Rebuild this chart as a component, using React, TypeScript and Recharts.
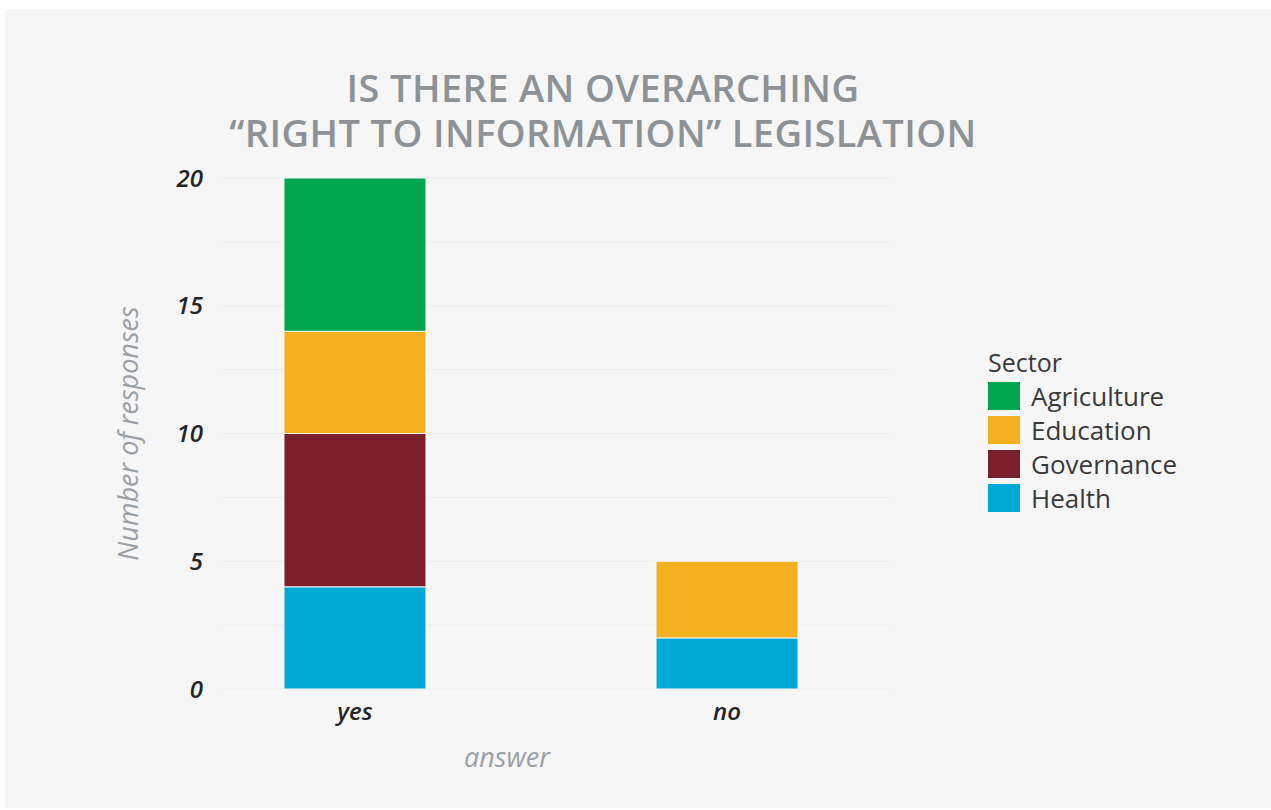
import { Bar, BarChart, CartesianGrid, Legend, XAxis, YAxis } from "recharts"

const answers = ["yes", "no"]
const sectors = ["Health", "Governance", "Education", "Agriculture"]
const health = [4, 2]
const governance = [6, 0]
const education = [4, 3]
const agriculture = [6, 0]
const yTicks = [0, 5, 10, 15, 20]
const gridValues = [0, 2.5, 5, 7.5, 10, 12.5, 15, 17.5, 20]
const titleLines = ["IS THERE AN OVERARCHING", "“RIGHT TO INFORMATION” LEGISLATION"]

const colors: Record<string, string> = {
  Health: "#00a9d6",
  Governance: "#7a1f2b",
  Education: "#f4b020",
  Agriculture: "#00a650",
}

const data = answers.map((a, i) => ({
  idx: i,
  answer: a,
  Health: health[i],
  Governance: governance[i],
  Education: education[i],
  Agriculture: agriculture[i],
}))

const FONT = "'Open Sans', sans-serif"
const tickStyle = { fill: "#252525", fontSize: 24, fontStyle: "italic", fontWeight: 600, fontFamily: FONT }

function SectorLegend() {
  const order = [...sectors].reverse()
  return (
    <div style={{ fontFamily: FONT, color: "#3a3a3a" }}>
      <div style={{ fontSize: 25, lineHeight: "30px", marginBottom: 2 }}>Sector</div>
      {order.map((s) => (
        <div key={s} style={{ display: "flex", alignItems: "center", height: 34 }}>
          <span style={{ width: 32, height: 28, background: colors[s], display: "inline-block" }} />
          <span style={{ fontSize: 26, marginLeft: 11 }}>{s}</span>
        </div>
      ))}
    </div>
  )
}

export default function App() {
  return (
    <div style={{ position: "absolute", left: 0, top: 0, width: 1271, height: 810, background: "#ffffff" }}>
      <div style={{ position: "absolute", left: 5, top: 9, width: 1266, height: 799, background: "#f6f6f6" }}>
        {titleLines.map((t, i) => (
          <div
            key={t}
            style={{
              position: "absolute",
              left: 0,
              width: 1196,
              top: 56 + i * 45,
              height: 45,
              textAlign: "center",
              fontFamily: FONT,
              fontWeight: 600,
              fontSize: 38,
              letterSpacing: 0.4,
              lineHeight: "45px",
              color: "#8d9297",
              whiteSpace: "nowrap",
            }}
          >
            {t}
          </div>
        ))}
        <BarChart
          width={1266}
          height={799}
          data={data}
          margin={{ top: 169, right: 381, bottom: 89, left: 107 }}
          style={{ position: "absolute", left: 0, top: 0 }}
        >
          <CartesianGrid stroke="#ececec" vertical={false} horizontalValues={gridValues} />
          <XAxis
            dataKey="idx"
            type="number"
            domain={[-0.3575, 1.438]}
            ticks={[0, 1]}
            tickFormatter={(v: number) => answers[v]}
            axisLine={false}
            tickLine={false}
            tickSize={0}
            tickMargin={14}
            height={30}
            tick={tickStyle}
            label={{
              value: "answer",
              position: "bottom",
              offset: 29,
              dx: -49,
              style: { fill: "#9aa0a6", fontSize: 27, fontStyle: "italic", fontFamily: FONT },
            }}
          />
          <YAxis
            domain={[0, 20]}
            ticks={yTicks}
            axisLine={false}
            tickLine={false}
            tickSize={0}
            tickMargin={19}
            width={110}
            tick={tickStyle}
            label={{
              value: "Number of responses",
              angle: -90,
              position: "insideLeft",
              offset: 16,
              style: { textAnchor: "middle", fill: "#9aa0a6", fontSize: 27, fontStyle: "italic", fontFamily: FONT },
            }}
          />
          <Legend
            layout="vertical"
            align="center"
            verticalAlign="middle"
            wrapperStyle={{ left: 983, top: 338, width: 260 }}
            content={() => <SectorLegend />}
          />
          {sectors.map((s) => (
            <Bar
              key={s}
              dataKey={s}
              stackId="a"
              fill={colors[s]}
              barSize={142}
              stroke="#f6f6f6"
              strokeWidth={1}
              isAnimationActive={false}
            />
          ))}
        </BarChart>
      </div>
    </div>
  )
}
